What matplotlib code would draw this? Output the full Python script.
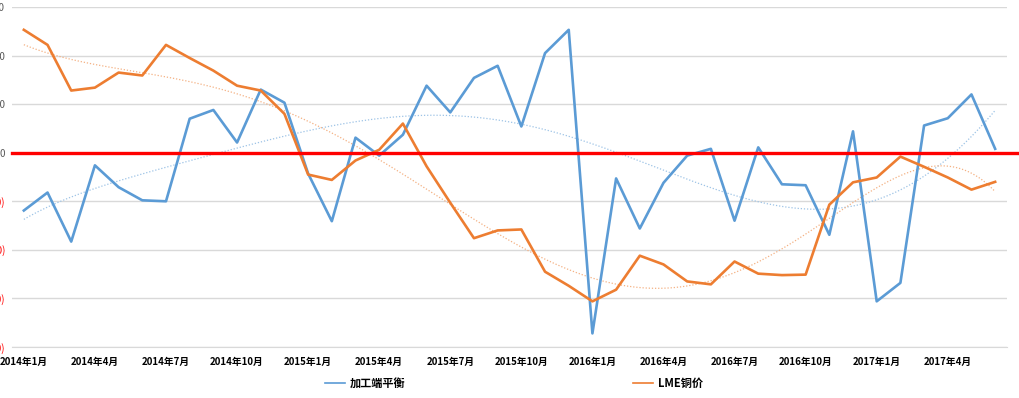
import numpy as np
import matplotlib
matplotlib.use("Agg")
import matplotlib.pyplot as plt
from matplotlib.lines import Line2D

plt.rcParams['font.family'] = ['Noto Sans CJK SC', 'DejaVu Sans']

# 月份 2014年1月 .. 2017年6月
months = [f"{y}年{m}月" for y in range(2014, 2018) for m in range(1, 13)][:42]

balance = [-11.9, -8.2, -18.3, -2.6, -7.1, -9.8, -10.0, 7.0, 8.8, 2.1,
           13.0, 10.3, -4.3, -14.1, 3.1, -0.6, 3.7, 13.8, 8.3, 15.4,
           17.9, 5.4, 20.5, 25.3, -37.2, -5.3, -15.6, -6.2, -0.6, 0.8,
           -14.0, 1.1, -6.5, -6.7, -16.9, 4.4, -30.6, -26.8, 5.6, 7.1,
           12.0, 0.8]
lme = [25.3, 22.2, 12.8, 13.4, 16.5, 15.9, 22.2, 19.5, 16.9, 13.8,
       12.8, 8.0, -4.5, -5.6, -1.6, 0.6, 6.0, -2.8, -10.3, -17.6,
       -16.0, -15.8, -24.5, -27.4, -30.6, -28.2, -21.2, -23.0, -26.5, -27.1,
       -22.4, -24.9, -25.2, -25.1, -10.7, -6.1, -5.1, -0.8, -2.9, -5.1,
       -7.6, -6.0]

yticks = [30, 20, 10, 0, -10, -20, -30, -40]
ylabels = ["30", "20", "10", "0", "(10)", "(20)", "(30)", "(40)"]

blue = "#5b9bd5"
orange = "#ed7d31"

fig = plt.figure(figsize=(10.19, 3.98), dpi=100)
ax = fig.add_axes([12/1019, 1-347/398, 995/1019, 340/398])

x = np.arange(len(months))
ax.plot(x, balance, color=blue, lw=1.9, zorder=3)
ax.plot(x, lme, color=orange, lw=1.9, zorder=3)

# polynomial trend lines
xs = np.linspace(0, len(months)-1, 300)
pb = np.polynomial.Polynomial.fit(x, balance, 6)
po = np.polynomial.Polynomial.fit(x, lme, 6)
ax.plot(xs, pb(xs), color="#9dc3e6", lw=0.9, ls=(0, (1, 1.5)), zorder=2)
ax.plot(xs, po(xs), color="#f4b183", lw=0.9, ls=(0, (1, 1.5)), zorder=2)

ax.axhline(0, xmin=0, xmax=1.013, color="#ff0000", lw=2.4, clip_on=False, zorder=4)

ax.set_xlim(-0.5, len(months)-0.5)
ax.set_ylim(-40, 30)
ax.set_yticks(yticks)
ax.set_yticklabels(ylabels, fontsize=7)
for lab, v in zip(ax.get_yticklabels(), yticks):
    lab.set_color("#ff0000" if v < 0 else "#595959")
ax.grid(axis="y", color="#d9d9d9", lw=1)
ax.set_axisbelow(True)
ax.set_xticks(x[::3])
ax.set_xticklabels(months[::3], fontsize=7, fontweight="bold")
ax.tick_params(length=0, axis="x", pad=7)
ax.tick_params(length=0, axis="y", pad=5)
for s in ["top", "right", "left"]:
    ax.spines[s].set_visible(False)
ax.spines["bottom"].set_color("#d9d9d9")

handles = [Line2D([], [], color=blue, lw=1.2), Line2D([], [], color=orange, lw=1.2)]
fig.legend(handles, ["加工端平衡", "LME铜价"], loc="center",
           bbox_to_anchor=(514/1019, 1-383/398), ncol=2, frameon=False,
           prop={"size": 8, "weight": "bold"}, handlelength=1.8,
           handletextpad=0.4, columnspacing=20.5)

fig.savefig("out.png", dpi=100)
